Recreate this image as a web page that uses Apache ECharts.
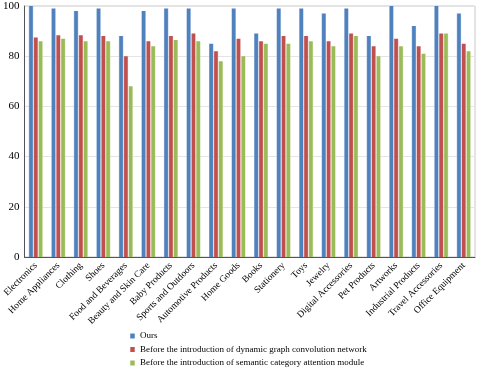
<!DOCTYPE html>
<html><head><meta charset="utf-8">
<script src="https://cdn.jsdelivr.net/npm/echarts@6/dist/echarts.min.js"></script>
<style>html,body{margin:0;padding:0;background:#fff}#c{width:480px;height:370px}</style>
</head><body><div id="c"></div>
<script>
const categories = ["Electronics","Home Appliances","Clothing","Shoes","Food and Beverages","Beauty and Skin Care","Baby Products","Sports and Outdoors","Automotive Products","Home Goods","Books","Stationery","Toys","Jewelry","Digital Accessories","Pet Products","Artworks","Industrial Products","Travel Accessories","Office Equipment"];
const ours = [100,99,98,99,88,98,99,99,85,99,89,99,99,97,99,88,100,92,100,97];
const noDGCN = [87.5,88.3,88.3,88,80,86,88,89,82,87,86,88,88,86,89,84,87,84,89,85];
const noSCAM = [86,87,86,86,68,84,86.5,86,78,80,85,85,86,84,88,80,84,81,89,82];
const seriesNames = ["Ours","Before the introduction of dynamic graph convolution network","Before the introduction of semantic category attention module"];
const yTicks = {min:0, max:100, interval:20};

const font = "'Liberation Serif','Times New Roman',serif";
function grad(main, light){
  return new echarts.graphic.LinearGradient(0,0,1,0,[
    {offset:0,color:light},{offset:0.22,color:main},{offset:0.78,color:main},{offset:1,color:light}]);
}
const colors = [["#4F81BD","#9DB9DE"],["#C0504D","#E3A5A3"],["#9BBB59","#CCDDA8"]];
const data = [ours, noDGCN, noSCAM];
const chart = echarts.init(document.getElementById('c'));
chart.setOption({
  animation:false,
  color: colors.map(c=>c[0]),
  grid:{left:21,right:5,top:6,bottom:113,show:true,borderColor:'#c8c8c8',borderWidth:1},
  legend:{orient:'vertical',left:130,top:331,height:60,padding:0,itemWidth:5,itemHeight:5,itemGap:3.5,icon:'rect',
    textStyle:{fontFamily:font,fontSize:9,color:'#000',lineHeight:10,padding:0},data:seriesNames},
  xAxis:{type:'category',data:categories,
    axisLine:{lineStyle:{color:'#555'}},axisTick:{show:false},
    axisLabel:{interval:0,rotate:45,fontFamily:font,fontSize:9.5,color:'#000',margin:7}},
  yAxis:{type:'value',min:yTicks.min,max:yTicks.max,interval:yTicks.interval,
    axisLine:{show:true,lineStyle:{color:'#555'}},axisTick:{show:false},
    splitLine:{lineStyle:{color:'#e4e4e4'}},
    axisLabel:{fontFamily:font,fontSize:11,color:'#000',margin:5}},
  series: seriesNames.map((n,i)=>({name:n,type:'bar',data:data[i],
    barGap:'10%',barCategoryGap:'38%',
    itemStyle:{color:grad(colors[i][0],colors[i][1])}}))
});
</script></body></html>
